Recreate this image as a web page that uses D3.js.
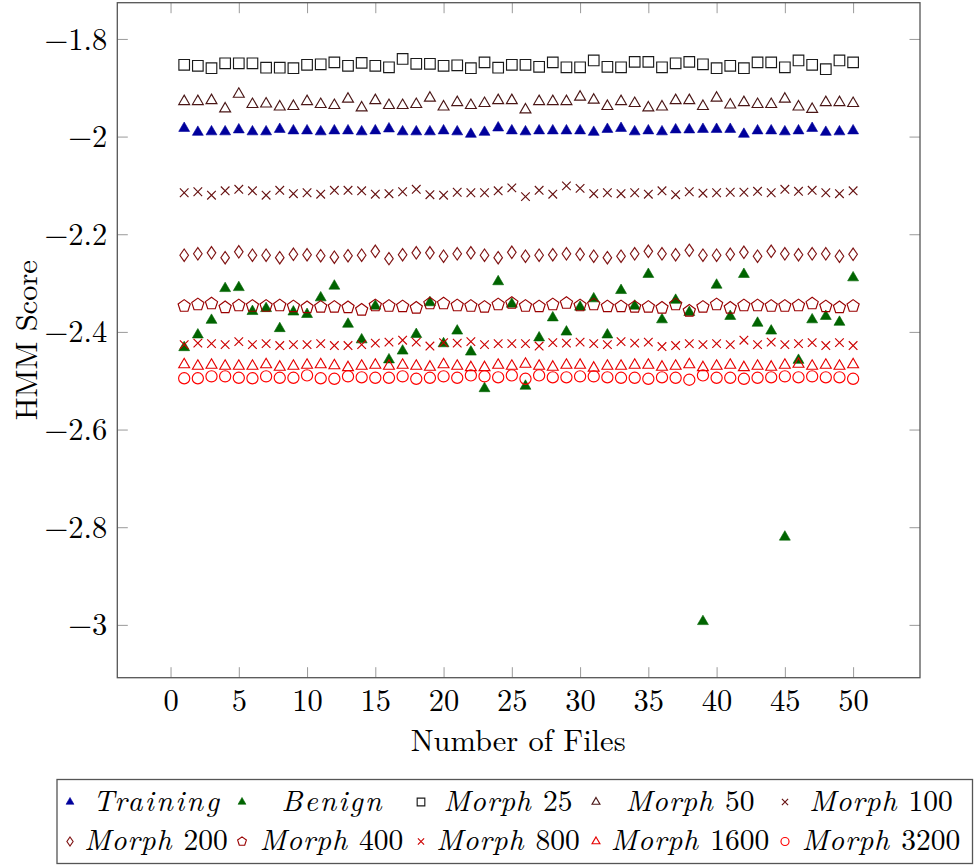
<!DOCTYPE html>
<html><head><meta charset="utf-8">
<script src="https://cdn.jsdelivr.net/npm/d3@7"></script>
<style>body{margin:0;background:#fff}svg{display:block}</style>
</head><body>
<svg id="c" width="974" height="865"></svg>
<script>
// ---------- data ----------
const files = [1,2,3,4,5,6,7,8,9,10,11,12,13,14,15,16,17,18,19,20,21,22,23,24,25,
  26,27,28,29,30,31,32,33,34,35,36,37,38,39,40,41,42,43,44,45,46,47,48,49,50];
const seriesNames = ["Training","Benign","Morph 25","Morph 50","Morph 100",
  "Morph 200","Morph 400","Morph 800","Morph 1600","Morph 3200"];
const training = [-1.983,-1.991,-1.990,-1.990,-1.986,-1.990,-1.990,-1.985,-1.988,-1.988,
  -1.990,-1.988,-1.988,-1.990,-1.988,-1.984,-1.990,-1.990,-1.990,-1.988,
  -1.990,-1.995,-1.991,-1.982,-1.988,-1.990,-1.988,-1.988,-1.988,-1.988,
  -1.991,-1.985,-1.983,-1.990,-1.988,-1.990,-1.986,-1.986,-1.985,-1.985,
  -1.985,-1.995,-1.988,-1.988,-1.990,-1.988,-1.983,-1.991,-1.990,-1.988];
const benign = [-2.432,-2.406,-2.376,-2.311,-2.309,-2.358,-2.352,-2.393,-2.359,-2.364,
  -2.330,-2.306,-2.384,-2.416,-2.347,-2.457,-2.439,-2.405,-2.340,-2.424,
  -2.398,-2.441,-2.516,-2.297,-2.343,-2.511,-2.412,-2.371,-2.400,-2.349,
  -2.332,-2.406,-2.315,-2.347,-2.282,-2.375,-2.335,-2.360,-2.993,-2.304,
  -2.368,-2.282,-2.382,-2.398,-2.820,-2.458,-2.375,-2.368,-2.380,-2.289];
const morph25 = [-1.853,-1.855,-1.860,-1.850,-1.850,-1.850,-1.859,-1.859,-1.860,-1.853,
  -1.852,-1.848,-1.855,-1.849,-1.855,-1.858,-1.841,-1.851,-1.851,-1.855,
  -1.854,-1.860,-1.848,-1.859,-1.853,-1.853,-1.857,-1.848,-1.858,-1.858,
  -1.844,-1.857,-1.858,-1.847,-1.847,-1.858,-1.850,-1.847,-1.852,-1.860,
  -1.855,-1.860,-1.848,-1.848,-1.858,-1.844,-1.853,-1.862,-1.844,-1.848];
const morph50 = [-1.928,-1.928,-1.926,-1.943,-1.913,-1.934,-1.933,-1.939,-1.938,-1.928,
  -1.934,-1.936,-1.923,-1.941,-1.926,-1.936,-1.936,-1.934,-1.921,-1.939,
  -1.930,-1.936,-1.932,-1.926,-1.926,-1.945,-1.928,-1.928,-1.928,-1.919,
  -1.925,-1.938,-1.928,-1.932,-1.941,-1.939,-1.926,-1.926,-1.938,-1.921,
  -1.935,-1.930,-1.934,-1.934,-1.923,-1.939,-1.944,-1.930,-1.930,-1.932];
const morph100 = [-2.115,-2.113,-2.120,-2.111,-2.108,-2.111,-2.120,-2.110,-2.117,-2.115,
  -2.118,-2.110,-2.110,-2.111,-2.118,-2.117,-2.113,-2.108,-2.119,-2.120,
  -2.114,-2.115,-2.115,-2.111,-2.105,-2.123,-2.110,-2.118,-2.101,-2.106,
  -2.117,-2.115,-2.117,-2.115,-2.118,-2.111,-2.119,-2.113,-2.116,-2.115,
  -2.114,-2.114,-2.112,-2.115,-2.108,-2.112,-2.110,-2.115,-2.117,-2.111];
const morph200 = [-2.243,-2.240,-2.238,-2.248,-2.236,-2.243,-2.243,-2.248,-2.241,-2.242,
  -2.244,-2.247,-2.244,-2.243,-2.235,-2.250,-2.242,-2.238,-2.238,-2.245,
  -2.240,-2.238,-2.243,-2.248,-2.237,-2.245,-2.243,-2.242,-2.240,-2.241,
  -2.245,-2.248,-2.245,-2.240,-2.235,-2.240,-2.242,-2.233,-2.243,-2.243,
  -2.241,-2.237,-2.245,-2.235,-2.240,-2.242,-2.240,-2.240,-2.245,-2.241];
const morph400 = [-2.347,-2.344,-2.342,-2.350,-2.346,-2.347,-2.347,-2.346,-2.348,-2.350,
  -2.349,-2.349,-2.350,-2.355,-2.346,-2.347,-2.348,-2.351,-2.342,-2.342,
  -2.346,-2.347,-2.349,-2.344,-2.341,-2.347,-2.348,-2.344,-2.341,-2.346,
  -2.344,-2.348,-2.348,-2.349,-2.349,-2.351,-2.344,-2.357,-2.349,-2.344,
  -2.351,-2.346,-2.346,-2.347,-2.347,-2.346,-2.342,-2.348,-2.350,-2.347];
const morph800 = [-2.426,-2.423,-2.424,-2.426,-2.420,-2.426,-2.424,-2.428,-2.426,-2.426,
  -2.424,-2.428,-2.428,-2.426,-2.423,-2.421,-2.417,-2.421,-2.429,-2.422,
  -2.423,-2.420,-2.426,-2.424,-2.424,-2.424,-2.429,-2.422,-2.423,-2.421,
  -2.424,-2.426,-2.420,-2.423,-2.421,-2.430,-2.428,-2.424,-2.426,-2.424,
  -2.426,-2.417,-2.426,-2.421,-2.426,-2.424,-2.422,-2.428,-2.422,-2.428];
const morph1600 = [-2.467,-2.470,-2.468,-2.470,-2.470,-2.470,-2.467,-2.472,-2.470,-2.468,
  -2.467,-2.469,-2.473,-2.470,-2.468,-2.470,-2.468,-2.470,-2.472,-2.467,
  -2.470,-2.473,-2.473,-2.468,-2.470,-2.466,-2.470,-2.472,-2.468,-2.468,
  -2.474,-2.470,-2.470,-2.468,-2.468,-2.472,-2.470,-2.467,-2.473,-2.470,
  -2.468,-2.473,-2.470,-2.472,-2.468,-2.466,-2.470,-2.468,-2.470,-2.467];
const morph3200 = [-2.495,-2.495,-2.491,-2.491,-2.494,-2.495,-2.491,-2.494,-2.494,-2.489,
  -2.495,-2.496,-2.491,-2.493,-2.494,-2.494,-2.491,-2.496,-2.494,-2.491,
  -2.494,-2.489,-2.491,-2.493,-2.489,-2.496,-2.489,-2.493,-2.493,-2.491,
  -2.491,-2.493,-2.494,-2.494,-2.496,-2.493,-2.494,-2.498,-2.489,-2.494,
  -2.494,-2.496,-2.494,-2.493,-2.491,-2.493,-2.491,-2.493,-2.493,-2.496];
const xTicks = [0,5,10,15,20,25,30,35,40,45,50];
const xTickLabels = ["0","5","10","15","20","25","30","35","40","45","50"];
const yTicks = [-1.8,-2,-2.2,-2.4,-2.6,-2.8,-3];
const yTickLabels = ["\u22121.8","\u22122","\u22122.2","\u22122.4","\u22122.6","\u22122.8","\u22123"];

// ---------- styles ----------
const seriesValues = [training,benign,morph25,morph50,morph100,morph200,morph400,morph800,morph1600,morph3200];
const colors = ["#00009c","#006400","#1a1a1a","#4a1616","#661111","#801515","#990000","#cc0000","#e60000","#ff0000"];
const markers = ["triF","triF","square","tri","cross","diamond","pentagon","cross","tri","circle"];

const FONT = "'Latin Modern Roman','Liberation Serif',serif";
const FS = 30.5;
const LFS = 29.5;

const L = 117.3, R = 920, T = 2.7, B = 677.7;

// domain with 10% enlargement, like pgfplots
const allY = seriesValues.flat();
const yExt = d3.extent(allY), yPad = (yExt[1]-yExt[0])*0.1;
const xExt = d3.extent(files), xPad = (xExt[1]-xExt[0])*0.1;

const x = d3.scaleLinear().domain([xExt[0]-xPad, xExt[1]+xPad]).range([L, R]);
const y = d3.scaleLinear().domain([yExt[0]-yPad, yExt[1]+yPad]).range([B, T]);

function markerPath(type, k){
  const f = v => (v*k).toFixed(2);
  switch(type){
    case "triF": case "tri": {
      const r = 6.3;
      return `M0,${f(-r)}L${f(0.866*r)},${f(0.5*r)}L${f(-0.866*r)},${f(0.5*r)}Z`;
    }
    case "square": { const h = 5.3; return `M${f(-h)},${f(-h)}H${f(h)}V${f(h)}H${f(-h)}Z`; }
    case "cross": { const h = 4.3; return `M${f(-h)},${f(-h)}L${f(h)},${f(h)}M${f(-h)},${f(h)}L${f(h)},${f(-h)}`; }
    case "diamond": { const w = 4.3, h = 6.2; return `M0,${f(-h)}L${f(w)},0L0,${f(h)}L${f(-w)},0Z`; }
    case "pentagon": {
      const r = 6.4; let s = "";
      for(let i=0;i<5;i++){ const a = (-90+72*i)*Math.PI/180; s += (i?"L":"M")+f(r*Math.cos(a))+","+f(r*Math.sin(a)); }
      return s+"Z";
    }
    case "circle": { const r = 5.6; return `M${f(r)},0A${f(r)},${f(r)} 0 1,1 ${f(-r)},0A${f(r)},${f(r)} 0 1,1 ${f(r)},0Z`; }
  }
}
function styleMarker(sel, i){
  const filled = markers[i]==="triF";
  sel.attr("fill", filled ? colors[i] : "none")
     .attr("stroke", colors[i])
     .attr("stroke-width", filled ? 0.6 : 1.15)
     .attr("stroke-linejoin","miter");
}

const svg = d3.select("#c");

// ---------- axes (ticks inward on all sides) ----------
const tickLen = 10.5, tickCol = "#9a9a9a";
function styleAxis(g){
  g.select(".domain").remove();
  g.selectAll(".tick line").attr("stroke", tickCol).attr("stroke-width", 1);
  g.selectAll("text").attr("font-family", FONT).attr("font-size", FS).attr("fill","#000");
}
const gxB = svg.append("g").attr("transform",`translate(0,${B})`)
  .call(d3.axisBottom(x).tickValues(xTicks).tickSize(-tickLen).tickFormat((d,i)=>xTickLabels[i]));
styleAxis(gxB);
gxB.selectAll("text").attr("y", 33.5).attr("dy", 0);
const gxT = svg.append("g").attr("transform",`translate(0,${T})`)
  .call(d3.axisTop(x).tickValues(xTicks).tickSize(-tickLen).tickFormat(""));
styleAxis(gxT);
const gyL = svg.append("g").attr("transform",`translate(${L},0)`)
  .call(d3.axisLeft(y).tickValues(yTicks).tickSize(-tickLen).tickFormat((d,i)=>yTickLabels[i]));
styleAxis(gyL);
gyL.selectAll("text").attr("x", -10).attr("dy", "0.33em");
const gyR = svg.append("g").attr("transform",`translate(${R},0)`)
  .call(d3.axisRight(y).tickValues(yTicks).tickSize(-tickLen).tickFormat(""));
styleAxis(gyR);

// frame
svg.append("rect").attr("x",L).attr("y",T).attr("width",R-L).attr("height",B-T)
  .attr("fill","none").attr("stroke","#555").attr("stroke-width",1.3);

// ---------- marks ----------
seriesValues.forEach((vals,i)=>{
  const g = svg.append("g").attr("class","series");
  g.selectAll("path").data(files.map((f,j)=>({f, v: vals[j]}))).join("path")
    .attr("transform", d=>`translate(${x(d.f)},${y(d.v)})`)
    .attr("d", markerPath(markers[i],1))
    .call(s=>styleMarker(s,i));
});

// ---------- axis labels ----------
svg.append("text").attr("x", (L+R)/2 - 0.5).attr("y", 751)
  .attr("text-anchor","middle").attr("font-family",FONT).attr("font-size",FS)
  .text("Number of Files");
svg.append("text").attr("transform",`translate(37,${(T+B)/2}) rotate(-90)`)
  .attr("text-anchor","middle").attr("font-family",FONT).attr("font-size",FS)
  .text("HMM Score");

// ---------- legend ----------
const leg = svg.append("g");
leg.append("rect").attr("x",57).attr("y",779.5).attr("width",915.5).attr("height",84)
  .attr("fill","#fff").attr("stroke","#555").attr("stroke-width",1.3);
const colMarkerX = [70, 242, 421, 596, 785];
const colTextX = [156, 331.5, 508, 690, 881];
const rowMarkerY = [802, 841.5];
const rowBaseY = [810.5, 850];
seriesNames.forEach((name,i)=>{
  const col = i%5, row = Math.floor(i/5);
  leg.append("path").attr("transform",`translate(${colMarkerX[col]},${rowMarkerY[row]})`)
    .attr("d", markerPath(markers[i],0.72)).call(s=>styleMarker(s,i));
  const parts = name.split(" ");
  const tIt = leg.append("text").attr("y",rowBaseY[row])
    .attr("font-family",FONT).attr("font-size",LFS).attr("font-style","italic").text(parts[0]);
  if(parts.length>1){
    // italic word (math style, slightly letter-spaced) + upright number
    tIt.attr("letter-spacing", 0.8);
    const tNum = leg.append("text").attr("y",rowBaseY[row])
      .attr("font-family",FONT).attr("font-size",LFS).text(parts[1]);
    const wi = tIt.node().getComputedTextLength();
    const wn = tNum.node().getComputedTextLength();
    const gap = 0.38*LFS;
    const x0 = colTextX[col] - (wi+gap+wn)/2;
    tIt.attr("x", x0);
    tNum.attr("x", x0 + wi + gap);
  } else {
    const w = name==="Training" ? 126 : 100;
    tIt.attr("x", colTextX[col] - w/2).attr("textLength", w).attr("lengthAdjust","spacing");
  }
});
</script>
</body></html>
